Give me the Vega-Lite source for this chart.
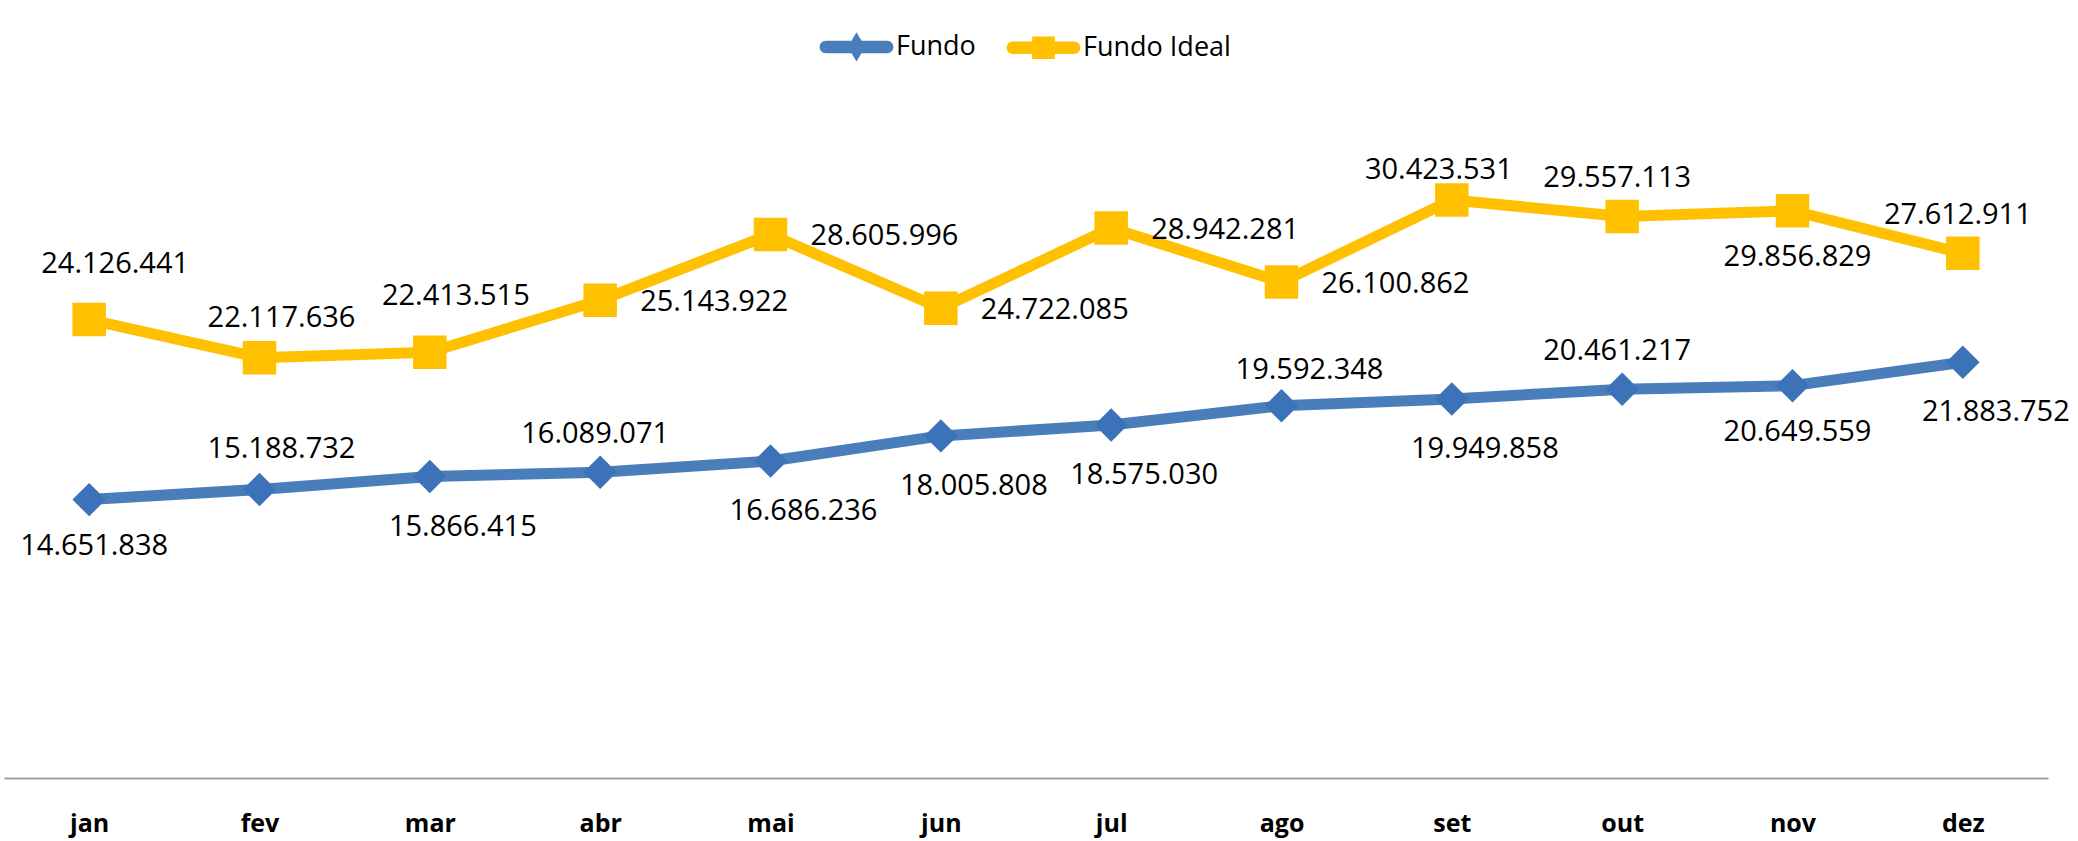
{
  "$schema": "https://vega.github.io/schema/vega-lite/v6.json",
  "width": 2044,
  "height": 665,
  "autosize": {"type": "none"},
  "padding": {"left": 4, "top": 113, "right": 30, "bottom": 63},
  "background": "white",
  "config": {
    "view": {"stroke": null},
    "locale": {"number": {"decimal": ",", "thousands": ".", "grouping": [3], "currency": ["", ""]}},
    "text": {"font": "Open Sans", "fontSize": 29, "color": "#000000"}
  },
  "data": {"values": [
    {"mes": "jan", "serie": "Fundo", "valor": 14651838},
    {"mes": "fev", "serie": "Fundo", "valor": 15188732},
    {"mes": "mar", "serie": "Fundo", "valor": 15866415},
    {"mes": "abr", "serie": "Fundo", "valor": 16089071},
    {"mes": "mai", "serie": "Fundo", "valor": 16686236},
    {"mes": "jun", "serie": "Fundo", "valor": 18005808},
    {"mes": "jul", "serie": "Fundo", "valor": 18575030},
    {"mes": "ago", "serie": "Fundo", "valor": 19592348},
    {"mes": "set", "serie": "Fundo", "valor": 19949858},
    {"mes": "out", "serie": "Fundo", "valor": 20461217},
    {"mes": "nov", "serie": "Fundo", "valor": 20649559},
    {"mes": "dez", "serie": "Fundo", "valor": 21883752},
    {"mes": "jan", "serie": "Fundo Ideal", "valor": 24126441},
    {"mes": "fev", "serie": "Fundo Ideal", "valor": 22117636},
    {"mes": "mar", "serie": "Fundo Ideal", "valor": 22413515},
    {"mes": "abr", "serie": "Fundo Ideal", "valor": 25143922},
    {"mes": "mai", "serie": "Fundo Ideal", "valor": 28605996},
    {"mes": "jun", "serie": "Fundo Ideal", "valor": 24722085},
    {"mes": "jul", "serie": "Fundo Ideal", "valor": 28942281},
    {"mes": "ago", "serie": "Fundo Ideal", "valor": 26100862},
    {"mes": "set", "serie": "Fundo Ideal", "valor": 30423531},
    {"mes": "out", "serie": "Fundo Ideal", "valor": 29557113},
    {"mes": "nov", "serie": "Fundo Ideal", "valor": 29856829},
    {"mes": "dez", "serie": "Fundo Ideal", "valor": 27612911}
  ]},
  "encoding": {
    "x": {
      "field": "mes", "type": "ordinal",
      "scale": {"type": "point", "padding": 0.5, "domain": ["jan","fev","mar","abr","mai","jun","jul","ago","set","out","nov","dez"]},
      "axis": {
        "title": null, "ticks": false, "grid": false,
        "domainColor": "#a0a0a0", "domainWidth": 2,
        "labelFont": "Open Sans", "labelFontWeight": "bold", "labelFontSize": 25, "labelColor": "#000000",
        "labelAngle": 0, "labelBaseline": "middle", "labelPadding": 45
      }
    },
    "y": {
      "field": "valor", "type": "quantitative",
      "scale": {"domain": [0, 35000000], "nice": false, "zero": true},
      "axis": null
    }
  },
  "resolve": {"scale": {"color": "independent", "shape": "independent"}, "legend": {"color": "independent", "shape": "independent"}},
  "layer": [
    {
      "mark": {"type": "line", "strokeWidth": 11, "strokeCap": "round", "strokeJoin": "round"},
      "encoding": {
        "color": {"field": "serie", "type": "nominal", "scale": {"domain": ["Fundo", "Fundo Ideal"], "range": ["#4A7EBB", "#FFC000"]}, "legend": null}
      }
    },
    {
      "mark": {"type": "point", "filled": true, "opacity": 1, "size": 1120, "strokeWidth": 0},
      "encoding": {
        "color": {"field": "serie", "type": "nominal", "scale": {"domain": ["Fundo", "Fundo Ideal"], "range": ["#3C72B7", "#FFC000"]}, "legend": null},
        "shape": {"field": "serie", "type": "nominal", "scale": {"domain": ["Fundo", "Fundo Ideal"], "range": ["diamond", "square"]}, "legend": null}
      }
    },
    {
      "transform": [{"filter": "datum.valor < 0"}],
      "mark": {"type": "point", "filled": true, "opacity": 1, "strokeWidth": 0},
      "encoding": {
        "color": {
          "field": "serie", "type": "nominal",
          "scale": {"domain": ["Fundo", "Fundo Ideal"], "range": ["#4A7EBB", "#FFC000"]},
          "legend": {
            "title": null, "orient": "none", "direction": "horizontal",
            "legendX": 816, "legendY": -103,
            "symbolSize": 5329, "symbolStrokeWidth": 0, "symbolOpacity": 1,
            "labelFont": "Open Sans", "labelFontSize": 27, "labelColor": "#000000",
            "labelOffset": 3, "columnPadding": 30
          }
        },
        "shape": {
          "field": "serie", "type": "nominal",
          "scale": {"domain": ["Fundo", "Fundo Ideal"], "range": [
            "M-0.84,-0.17H0.84A0.17,0.17 0 0 1 0.84,0.17H-0.84A0.17,0.17 0 0 1 -0.84,-0.17Z M0,-0.4L0.24,0L0,0.4L-0.24,0Z",
            "M-0.84,-0.17H0.84A0.17,0.17 0 0 1 0.84,0.17H-0.84A0.17,0.17 0 0 1 -0.84,-0.17Z M-0.31,-0.31H0.31V0.31H-0.31Z"
          ]},
          "legend": {
            "title": null, "orient": "none", "direction": "horizontal",
            "legendX": 816, "legendY": -103,
            "symbolSize": 5329, "symbolStrokeWidth": 0, "symbolOpacity": 1,
            "labelFont": "Open Sans", "labelFontSize": 27, "labelColor": "#000000",
            "labelOffset": 3, "columnPadding": 30
          }
        }
      }
    },
    {
      "transform": [{"filter": "datum.serie == 'Fundo Ideal' && indexof(['jan','mar'], datum.mes) >= 0"}],
      "mark": {"type": "text", "dy": -56, "dx": 26, "baseline": "middle"},
      "encoding": {"text": {"field": "valor", "type": "quantitative", "format": ",d"}}
    },
    {
      "transform": [{"filter": "datum.mes == 'fev'"}],
      "mark": {"type": "text", "dy": -40, "dx": 22, "baseline": "middle"},
      "encoding": {"text": {"field": "valor", "type": "quantitative", "format": ",d"}}
    },
    {
      "transform": [{"filter": "(datum.serie == 'Fundo Ideal' && indexof(['out','dez'], datum.mes) >= 0) || (datum.serie == 'Fundo' && indexof(['abr','out'], datum.mes) >= 0)"}],
      "mark": {"type": "text", "dy": -38, "dx": -5, "baseline": "middle"},
      "encoding": {"text": {"field": "valor", "type": "quantitative", "format": ",d"}}
    },
    {
      "transform": [{"filter": "datum.serie == 'Fundo Ideal' && datum.mes == 'set'"}],
      "mark": {"type": "text", "dy": -30, "dx": -13, "baseline": "middle"},
      "encoding": {"text": {"field": "valor", "type": "quantitative", "format": ",d"}}
    },
    {
      "transform": [{"filter": "datum.serie == 'Fundo' && datum.mes == 'ago'"}],
      "mark": {"type": "text", "dy": -36, "dx": 28, "baseline": "middle"},
      "encoding": {"text": {"field": "valor", "type": "quantitative", "format": ",d"}}
    },
    {
      "transform": [{"filter": "datum.serie == 'Fundo' && indexof(['mar','mai','jun','jul','set','dez'], datum.mes) >= 0"}],
      "mark": {"type": "text", "dy": 50, "dx": 33, "baseline": "middle"},
      "encoding": {"text": {"field": "valor", "type": "quantitative", "format": ",d"}}
    },
    {
      "transform": [{"filter": "(datum.serie == 'Fundo Ideal' && datum.mes == 'nov') || (datum.serie == 'Fundo' && indexof(['jan','nov'], datum.mes) >= 0)"}],
      "mark": {"type": "text", "dy": 46, "dx": 5, "baseline": "middle"},
      "encoding": {"text": {"field": "valor", "type": "quantitative", "format": ",d"}}
    },
    {
      "transform": [{"filter": "datum.serie == 'Fundo Ideal' && indexof(['abr','mai','jun','jul','ago'], datum.mes) >= 0"}],
      "mark": {"type": "text", "dx": 40, "dy": 2, "align": "left", "baseline": "middle"},
      "encoding": {"text": {"field": "valor", "type": "quantitative", "format": ",d"}}
    }
  ]
}
